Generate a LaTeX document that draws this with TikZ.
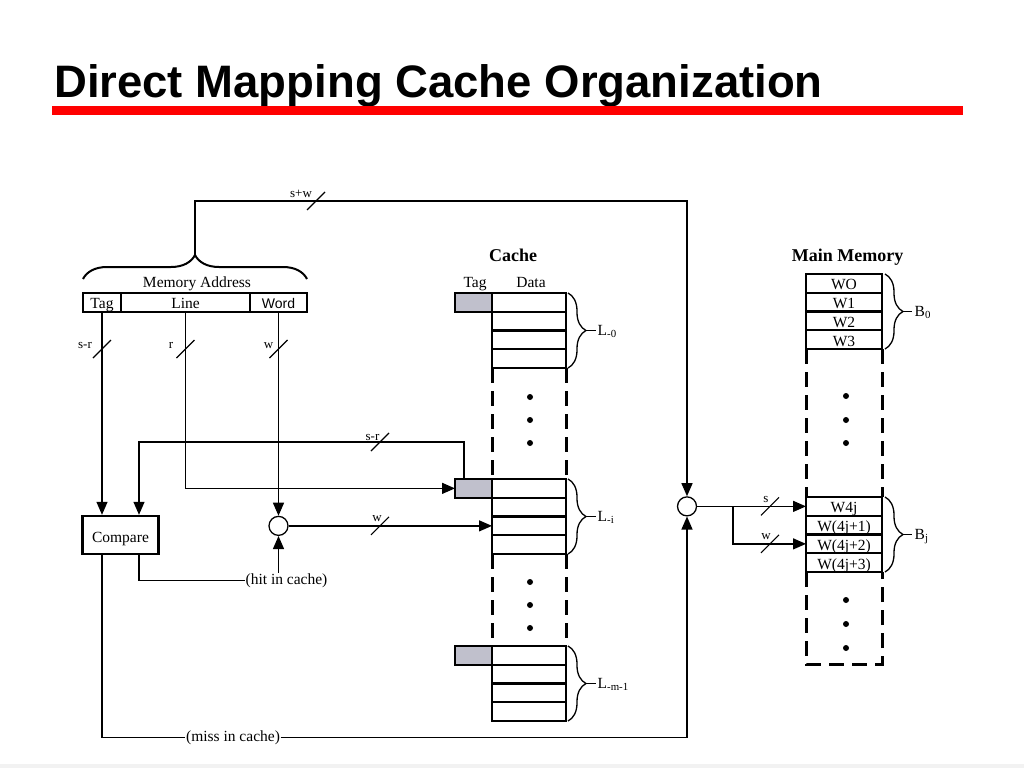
\documentclass[tikz,border=0pt]{standalone}
\usepackage{fontspec}
\setmainfont{Liberation Serif}
\newfontfamily\sansf{Liberation Sans}
\usetikzlibrary{arrows.meta,decorations.pathreplacing}
\newcommand{\fsz}[1]{\fontsize{#1}{#1}\selectfont}
\definecolor{taggray}{RGB}{192,192,204}
\definecolor{titlered}{RGB}{255,0,0}
\begin{document}
\begin{tikzpicture}[x=1pt,y=-1pt,
  thinln/.style={line width=1.3pt},
  arr/.style={thinln,-{Triangle[length=13pt,width=11pt]}},
  cellbox/.style={draw,line width=2.4pt,minimum width=74pt,minimum height=18.75pt,inner sep=0pt,outer sep=0pt},
  tagcell/.style={cellbox,fill=taggray,minimum width=37pt},
  mcell/.style={cellbox,minimum width=76pt,font=\fsz{15.5},text height=13pt,text depth=0pt},
  fieldbox/.style={draw,line width=2.4pt,minimum height=19pt,inner sep=0pt,font=\fsz{15.5},text height=11pt,text depth=0pt},
  dashedge/.style={line width=3pt,dash pattern=on 15pt off 8pt},
  txtlab/.style={font=\fsz{15.5},inner sep=0.5pt,anchor=base},
  smalllab/.style={font=\fsz{13},inner sep=0pt,anchor=base},
  mc/.style={circle,draw,line width=1.3pt,minimum size=19pt,inner sep=0pt},
  dotn/.style={circle,fill,minimum size=6pt,inner sep=0pt},
  curly/.style={line width=1.3pt,decorate,decoration={brace,amplitude=18pt}},
  slash/.style={line width=1.1pt}]
\useasboundingbox (0,0) rectangle (1024,768);
\fill[gray!10] (0,764) rectangle (1024,768);

% title
\node[anchor=base west,inner sep=0pt,font=\sansf\bfseries\fsz{45.5}] (title) at (54,97) {Direct Mapping Cache Organization};
\fill[titlered] (52,106) rectangle (963,115);

% memory address
\node[fieldbox,minimum width=38pt] (tagf) at (102,302.5) {Tag};
\node[fieldbox,minimum width=129pt] (linef) at (185.5,302.5) {Line};
\node[fieldbox,minimum width=57pt,font=\sansf\fsz{14}] (wordf) at (278.5,302.5) {Word};
\node[txtlab] (malab) at (197,287) {Memory Address};
\draw[line width=2pt,decorate,decoration={brace,amplitude=24pt}] (83,279) -- (307,279);
\coordinate (matip) at (195,255);
\coordinate (swturn) at (195,201);

% compare
\node[draw,line width=2.4pt,minimum width=76pt,minimum height=38pt,inner sep=0pt,font=\fsz{15.5},text height=14pt,text depth=0pt] (compare) at (120.5,535) {Compare};

% cache
\node[txtlab,font=\bfseries\fsz{18}] (cachet) at (513,261) {Cache};
\node[txtlab] (tagh) at (475,287) {Tag};
\node[txtlab] (datah) at (531,287) {Data};
\foreach \k in {0,1,2,3}{
  \node[cellbox] (c0\k) at (529,{302.375+18.75*\k}) {};
  \node[cellbox] (ci\k) at (529,{488.375+18.75*\k}) {};
  \node[cellbox] (cm\k) at (529,{655.375+18.75*\k}) {};
}
\node[tagcell] (t0) at (473.5,302.375) {};
\node[tagcell] (ti) at (473.5,488.375) {};
\node[tagcell] (tm) at (473.5,655.375) {};
\draw[dashedge] (c03.south west) -- (ci0.north west);
\draw[dashedge] (c03.south east) -- (ci0.north east);
\draw[dashedge] (ci3.south west) -- (cm0.north west);
\draw[dashedge] (ci3.south east) -- (cm0.north east);
\node[dotn] (cd1) at (530,397) {};
\node[dotn] (cd2) at (530,420) {};
\node[dotn] (cd3) at (530,443) {};
\node[dotn] (cd4) at (530,582) {};
\node[dotn] (cd5) at (530,605) {};
\node[dotn] (cd6) at (530,628) {};
% cache braces
\draw[curly] (568,293) -- (568,368);
\draw[thinln] (586,330.5) -- (596,330.5);
\node[txtlab,anchor=base west] (l0) at (597,335) {L\textsubscript{-0}};
\draw[curly] (568,479) -- (568,554);
\draw[thinln] (586,516.5) -- (596,516.5);
\node[txtlab,anchor=base west] (li) at (597,521) {L\textsubscript{-i}};
\draw[curly] (568,646) -- (568,721);
\draw[thinln] (586,683.5) -- (596,683.5);
\node[txtlab,anchor=base west] (lm) at (597,688) {L\textsubscript{-m-1}};

% main memory
\node[txtlab,font=\bfseries\fsz{18}] (mmt) at (847.5,261) {Main Memory};
\node[mcell] (m0) at (844,283.375) {WO};
\node[mcell] (m1) at (844,302.125) {W1};
\node[mcell] (m2) at (844,320.875) {W2};
\node[mcell] (m3) at (844,339.625) {W3};
\node[mcell] (mj0) at (844,506.375) {W4j};
\node[mcell] (mj1) at (844,525.125) {W(4j+1)};
\node[mcell] (mj2) at (844,543.875) {W(4j+2)};
\node[mcell] (mj3) at (844,562.625) {W(4j+3)};
\coordinate (mbl) at (806,664);
\coordinate (mbr) at (882,664);
\draw[dashedge] (m3.south west) -- (mj0.north west);
\draw[dashedge] (m3.south east) -- (mj0.north east);
\draw[dashedge] (mj3.south west) -- (mbl) -- (mbr) -- (mj3.south east);
\node[dotn] (md1) at (846,396) {};
\node[dotn] (md2) at (846,420) {};
\node[dotn] (md3) at (846,443) {};
\node[dotn] (md4) at (846,600) {};
\node[dotn] (md5) at (846,624) {};
\node[dotn] (md6) at (846,648) {};
\draw[curly] (885,274) -- (885,349);
\draw[thinln] (903,311.5) -- (912,311.5);
\node[txtlab,anchor=base west] (b0) at (914,316.5) {B\textsubscript{0}};
\draw[curly] (885,497) -- (885,572);
\draw[thinln] (903,534.5) -- (912,534.5);
\node[txtlab,anchor=base west] (bj) at (914,539.5) {B\textsubscript{j}};

% selectors
\node[mc] (circ1) at (278.5,525.875) {};
\node[mc] (circ2) at (687,506.375) {};
\coordinate (srturn) at (139,442);
\coordinate (brpt) at (733,506.375);
\node[txtlab] (hit) at (286.5,584) {(hit in cache)};
\node[txtlab] (miss) at (233,741) {(miss in cache)};

% connectors
\draw[arr] (matip) -- (swturn) -| (circ2.north);
\draw[arr] (tagf.south) -- (tagf.south |- compare.north);
\draw[arr] ([xshift=-9.5pt]ti.north) |- (srturn) -- ([xshift=18.5pt]compare.north);
\draw[arr] (linef.south) |- (ti.west);
\draw[arr] (wordf.south) -- (circ1.north);
\draw[arr] (circ1.east) -- (ci2.west);
\draw[thinln] ([xshift=18.5pt]compare.south) |- (hit.west);
\draw[arr] (hit.north -| circ1.south) -- (circ1.south);
\draw[thinln] ([xshift=-18.5pt]compare.south) |- (miss.west);
\draw[arr] (miss.east) -| (circ2.south);
\draw[arr] (circ2.east) -- (mj0.west);
\draw[arr] (brpt) |- (mj2.west);

% slash marks and widths
\draw[slash] (316,201) ++(-9,9) -- ++(18,-18);
\draw[slash] (102,349) ++(-9,9) -- ++(18,-18);
\draw[slash] (185.5,349) ++(-9,9) -- ++(18,-18);
\draw[slash] (278.5,349) ++(-9,9) -- ++(18,-18);
\draw[slash] (380,442) ++(-9,9) -- ++(18,-18);
\draw[slash] (380,525.875) ++(-9,9) -- ++(18,-18);
\draw[slash] (770,506.375) ++(-9,9) -- ++(18,-18);
\draw[slash] (770,543.875) ++(-9,9) -- ++(18,-18);
\node[smalllab] (lsw) at (301,197) {s+w};
\node[smalllab] (lsr1) at (85,348) {s-r};
\node[smalllab] (lr) at (171,348) {r};
\node[smalllab] (lw1) at (268.5,348) {w};
\node[smalllab] (lsr2) at (372.5,440) {s-r};
\node[smalllab] (lw2) at (377,521) {w};
\node[smalllab] (ls3) at (766,502) {s};
\node[smalllab] (lw3) at (766,539) {w};
\end{tikzpicture}
\end{document}
